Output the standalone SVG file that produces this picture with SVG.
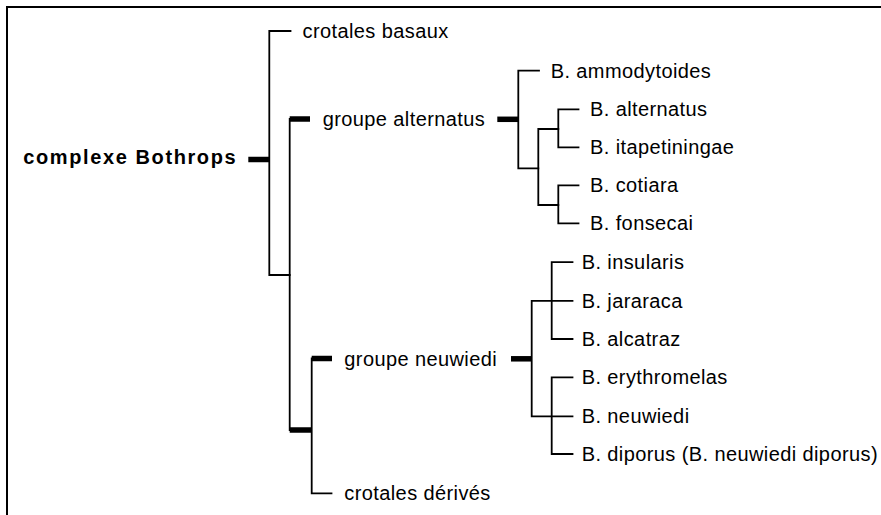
<svg xmlns="http://www.w3.org/2000/svg" width="881" height="515" viewBox="0 0 881 515">
<style>
.bg{fill:#ffffff}
.frame{fill:none;stroke:#000;stroke-width:2}
.thin{fill:none;stroke:#000;stroke-width:1.8;stroke-linecap:square}
.thick{fill:none;stroke:#000;stroke-width:5.5}
text{font-family:"Liberation Sans",Arial,sans-serif;font-size:20px;fill:#000;letter-spacing:0.4px}
.bold{font-weight:bold;letter-spacing:1.6px}
</style>
<rect class="bg" x="0" y="0" width="881" height="515"/>
<path class="frame" d="M7,515 V7 H881"/>
<g id="connectors">
<path class="thin" d="M290.5,31 H269.3 V275 H289.7"/>
<path class="thin" d="M289.7,119 V430"/>
<path class="thin" d="M311.7,358.5 V493.3 H331.5"/>
<path class="thin" d="M539,70.7 H518.3 V168.3 H538.3"/>
<path class="thin" d="M558.3,129 H538.3 V205 H558.3"/>
<path class="thin" d="M578.5,109.3 H558.3 V147.3 H578.5"/>
<path class="thin" d="M578.5,185.3 H558.3 V223.3 H578.5"/>
<path class="thin" d="M572.5,300.8 H531.7 V416.3 H572.5"/>
<path class="thin" d="M572.5,262.2 H551.7 V339 H572.5"/>
<path class="thin" d="M572.5,377.4 H551.7 V454 H572.5"/>
<path class="thick" d="M248.3,159.5 H269.3"/>
<path class="thick" d="M289.7,119 H310"/>
<path class="thick" d="M289.7,430 H311.7"/>
<path class="thick" d="M311.7,358.5 H332"/>
<path class="thick" d="M497.3,119.3 H518.3"/>
<path class="thick" d="M511,358.8 H531.7"/>
</g>
<g id="n-complexe"><text class="bold" x="23.3" y="163.5">complexe Bothrops</text></g>
<g id="n-basaux"><text x="302.5" y="38.3">crotales basaux</text></g>
<g id="n-alternatus-grp"><text x="322.7" y="126">groupe alternatus</text></g>
<g id="n-neuwiedi-grp"><text x="344.3" y="365.5">groupe neuwiedi</text></g>
<g id="n-derives"><text x="344.3" y="500.3">crotales dérivés</text></g>
<g id="n-ammodytoides"><text x="550.7" y="77.7">B. ammodytoides</text></g>
<g id="n-alternatus"><text x="590" y="116.3">B. alternatus</text></g>
<g id="n-itapetiningae"><text x="590" y="154.3">B. itapetiningae</text></g>
<g id="n-cotiara"><text x="590" y="192.3">B. cotiara</text></g>
<g id="n-fonsecai"><text x="590" y="230.3">B. fonsecai</text></g>
<g id="n-insularis"><text x="581.7" y="269.2">B. insularis</text></g>
<g id="n-jararaca"><text x="581.7" y="307.8">B. jararaca</text></g>
<g id="n-alcatraz"><text x="581.7" y="346">B. alcatraz</text></g>
<g id="n-erythromelas"><text x="581.7" y="384.4">B. erythromelas</text></g>
<g id="n-neuwiedi"><text x="581.7" y="423.3">B. neuwiedi</text></g>
<g id="n-diporus"><text x="581.7" y="461">B. diporus (B. neuwiedi diporus)</text></g>
</svg>
